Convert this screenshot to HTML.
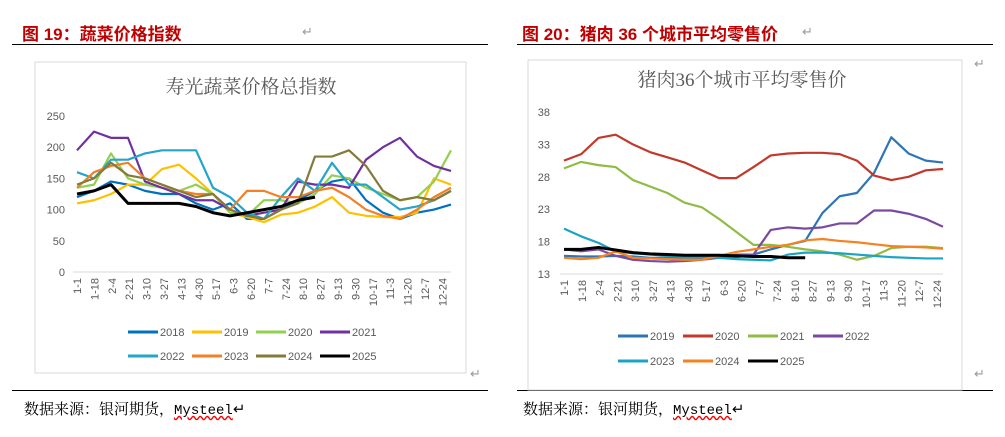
<!DOCTYPE html>
<html><head><meta charset="utf-8">
<style>
body{margin:0;width:1005px;height:437px;background:#fff;overflow:hidden;font-family:"Liberation Sans","Noto Sans CJK SC",sans-serif;position:relative}
.h{position:absolute;color:#c00000;font-weight:bold;font-size:17px;top:20px}
.hl{position:absolute;height:1px;background:#000}
.src{position:absolute;top:398px;font-size:15px;color:#000;font-family:"Liberation Serif","Noto Serif CJK SC",serif}
.src span{font-family:"Liberation Mono",monospace;font-size:14px}
.ret{position:absolute;color:#999;font-size:13px}
</style></head><body>
<div class="h" style="left:22px">图 19：蔬菜价格指数</div>
<div class="h" style="left:522px">图 20：猪肉 36 个城市平均零售价</div>
<div class="hl" style="left:12px;width:476px;top:44px"></div>
<div class="hl" style="left:517px;width:476px;top:44px"></div>
<div class="hl" style="left:12px;width:476px;top:390px"></div>
<div class="hl" style="left:517px;width:476px;top:390px"></div>
<div class="src" style="left:24px">数据来源：银河期货，<span style="text-decoration:underline wavy red">Mysteel</span>↵</div>
<div class="src" style="left:523px">数据来源：银河期货，<span style="text-decoration:underline wavy red">Mysteel</span>↵</div>
<div class="ret" style="left:302px;top:24px">↵</div><div class="ret" style="left:802px;top:24px">↵</div>
<div class="ret" style="left:974px;top:56px">↵</div><div class="ret" style="left:974px;top:366px">↵</div><div class="ret" style="left:470px;top:366px">↵</div>
<svg id="c" width="1005" height="437" style="position:absolute;left:0;top:0">
<rect x="35" y="62" width="431" height="311" fill="none" stroke="#d9d9d9"/>
<rect x="528" y="60" width="434" height="330" fill="none" stroke="#d9d9d9"/>
<text x="251" y="93" text-anchor="middle" font-size="19" fill="#595959" font-family="Liberation Serif,Noto Serif CJK SC,serif">寿光蔬菜价格总指数</text>
<text x="742" y="86" text-anchor="middle" font-size="19" fill="#595959" font-family="Liberation Serif,Noto Serif CJK SC,serif">猪肉36个城市平均零售价</text>
</svg>
<script>
const ticks=["1-1","1-18","2-4","2-21","3-10","3-27","4-13","4-30","5-17","6-3","6-20","7-7","7-24","8-10","8-27","9-13","9-30","10-17","11-3","11-20","12-7","12-24"];
const vegYears=["2018","2019","2020","2021","2022","2023","2024","2025"];
const vegColors=["#0070c0","#ffc000","#92d050","#7030a0","#23a6c9","#f47f26","#847a3a","#000"];
const veg2018=[120,130,145,140,130,125,125,110,100,110,85,85,100,115,130,145,150,115,95,85,95,100,108];
const veg2019=[110,115,125,140,140,165,172,150,125,95,88,80,92,95,105,120,95,90,88,88,95,150,140];
const veg2020=[135,140,190,150,140,135,130,140,125,95,90,115,115,110,125,155,150,135,125,115,120,145,195];
const veg2021=[195,225,215,215,145,135,125,115,115,100,90,95,100,145,140,140,135,180,200,215,185,170,162];
const veg2022=[160,150,180,180,190,195,195,195,135,120,95,85,120,150,130,175,140,140,120,100,105,115,130];
const veg2023=[135,160,170,175,150,140,130,125,125,100,130,130,120,120,130,135,120,100,90,85,100,120,135];
const veg2024=[140,150,175,155,150,140,130,120,125,100,90,85,100,110,185,185,195,170,130,115,120,115,130];
const veg2025=[125,130,140,110,110,110,110,105,95,90,95,100,105,115,120];
const vegTicks=[0,50,100,150,200,250];
const porkYears=["2019","2020","2021","2022","2023","2024","2025"];
const porkColors=["#2e75b6","#c0392b","#8fbc45","#7b4aa0","#1ba3c6","#f58220","#000"];
const pork2019=[15.8,15.7,15.7,15.8,15.7,15.5,15.5,15.5,15.5,15.6,15.6,16,16.8,17.5,18.1,22.4,25,25.5,28.6,34.1,31.6,30.5,30.2];
const pork2020=[30.5,31.5,34,34.5,33,31.8,31,30.2,29,27.8,27.8,29.5,31.3,31.6,31.7,31.7,31.5,30.5,28.2,27.5,28,29,29.2];
const pork2021=[29.3,30.3,29.8,29.5,27.5,26.5,25.5,24,23.3,21.5,19.5,17.5,17.5,17.2,16.8,16.5,16,15.2,15.8,17,17.2,17.2,17];
const pork2022=[16.8,16.5,16.8,15.8,15.2,15,14.9,15,15.2,15.5,16,16,19.8,20.2,20,20.2,20.8,20.8,22.8,22.8,22.3,21.5,20.3];
const pork2023=[20,18.8,17.8,16.5,16.2,16,15.8,15.6,15.6,15.5,15.3,15.2,15.1,16,16.3,16.3,16.2,16,15.8,15.6,15.5,15.4,15.4];
const pork2024=[15.5,15.3,15.5,16.5,15.5,15.4,15.3,15.2,15.2,15.8,16.4,16.8,17.2,17.5,18.2,18.4,18.1,17.9,17.6,17.3,17.2,17.1,16.9];
const pork2025=[16.8,16.8,17.1,16.7,16.3,16.1,16,15.9,15.9,15.9,15.8,15.7,15.7,15.5,15.5];
const porkTicks=[13,18,23,28,33,38];

const svg=document.getElementById('c');const NS='http://www.w3.org/2000/svg';
function mk(t,a){const e=document.createElementNS(NS,t);for(const k in a)e.setAttribute(k,a[k]);svg.appendChild(e);return e;}
function chart(o){
  const xs=i=>o.x0+i*(o.x1-o.x0)/22, ys=v=>o.y0-(v-o.vmin)/(o.vmax-o.vmin)*(o.y0-o.y1);
  const tx=i=>o.x0+i*o.tstep;
  const ax=mk('line',{x1:o.x0-4,x2:o.x1,y1:o.y0,y2:o.y0,stroke:'#d9d9d9'});
  
  
  o.yt.forEach(v=>{const t=mk('text',{x:o.ylx,y:ys(v)+4,'text-anchor':'end','font-size':11,fill:'#595959'});t.textContent=v;
    
    });
  ticks.forEach((l,i)=>{const t=mk('text',{transform:`translate(${tx(i)+4},${o.y0+6}) rotate(-90)`,'text-anchor':'end','font-size':11,fill:'#595959'});t.textContent=l;
    
    });
  o.series.forEach((s,k)=>{const p=mk('polyline',{points:s.map((v,i)=>xs(i)+','+ys(v)).join(' '),fill:'none',stroke:o.colors[k],'stroke-width':o.years[k]==='2025'?3:2.2,'stroke-linejoin':'round'});
    
    
    const r=k<o.perRow?0:1,c=k%o.perRow;const lx=o.lgx+c*o.lgdx,ly=o.lgy+r*o.lgdy;
    const ll=mk('line',{x1:lx,x2:lx+30,y1:ly,y2:ly,stroke:o.colors[k],'stroke-width':3});
    
    
    const lt=mk('text',{x:lx+32,y:ly+4,'font-size':11,fill:'#595959'});lt.textContent=o.years[k];
    
    });
}
chart({p:'veg',x0:77,x1:451,tstep:17.4,y0:272,y1:116,vmin:0,vmax:250,yt:vegTicks,ylx:65,years:vegYears,colors:vegColors,
  series:[veg2018,veg2019,veg2020,veg2021,veg2022,veg2023,veg2024,veg2025],perRow:4,lgx:128,lgdx:64,lgy:332,lgdy:24});
chart({p:'pork',x0:564,x1:943,tstep:17.75,y0:274,y1:112,vmin:13,vmax:38,yt:porkTicks,ylx:550,years:porkYears,colors:porkColors,
  series:[pork2019,pork2020,pork2021,pork2022,pork2023,pork2024,pork2025],perRow:4,lgx:618,lgdx:65,lgy:336,lgdy:25});
</script>
</body></html>
